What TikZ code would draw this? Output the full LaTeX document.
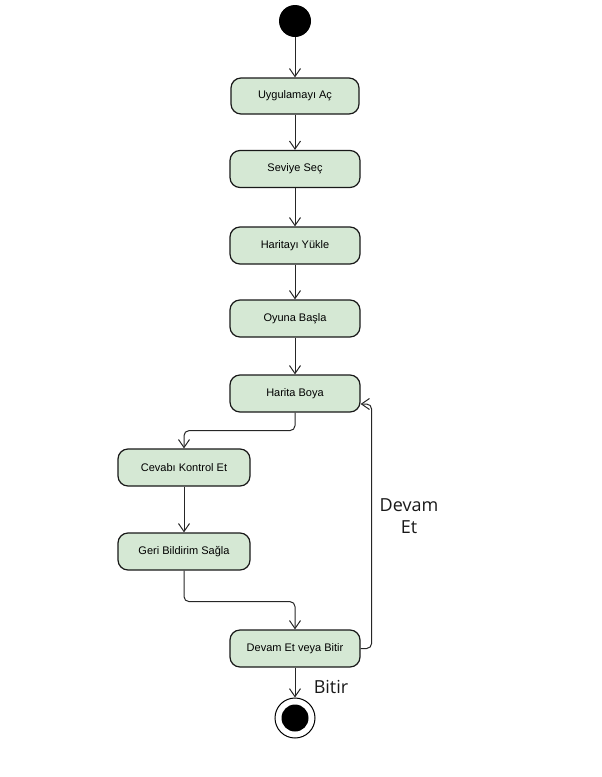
\documentclass[tikz,border=0pt]{standalone}
\usepackage{fontspec}
\setmainfont{Liberation Sans}
\newfontfamily\lblfont{Open Sans}
\usetikzlibrary{arrows.meta}
\definecolor{actfill}{HTML}{D5E8D4}
\begin{document}
\begin{tikzpicture}[x=1pt,y=-1pt,
 act/.style={draw=black!90,fill=actfill,rounded corners=10pt,line width=1.2pt,minimum width=130pt,minimum height=37pt,font=\fontsize{11}{13}\selectfont,inner sep=0pt},
 flow/.style={draw=black!85,line width=1pt,-{Straight Barb[length=8pt,width=11pt]},rounded corners=5pt},
 lbl/.style={font=\lblfont\fontsize{18}{22}\selectfont,text=black!90,align=center}]
\useasboundingbox (0,0) rectangle (602,777);
\node[circle,fill=black,minimum size=32pt,inner sep=0pt] (start) at (295,21) {};
\node[act,minimum width=128pt,minimum height=36pt] (a1) at (295,96) {Uygulamayı Aç};
\node[act] (a2) at (295,169) {Seviye Seç};
\node[act] (a3) at (295,245.5) {Haritayı Yükle};
\node[act] (a4) at (295,318.5) {Oyuna Başla};
\node[act] (a5) at (295,393.5) {Harita Boya};
\node[act,minimum width=132pt] (a6) at (184,467.5) {Cevabı Kontrol Et};
\node[act,minimum width=132pt] (a7) at (184,551.5) {Geri Bildirim Sağla};
\node[act] (a8) at (295,648.5) {Devam Et veya Bitir};
\node[circle,draw=black,line width=1pt,fill=white,minimum size=40pt,inner sep=0pt] (end) at (295,718) {};
\node[circle,fill=black,minimum size=27pt,inner sep=0pt] (endin) at (end.center) {};
\coordinate (a5in) at ([yshift=-10.5pt]a5.east);
\draw[flow] (start) -- (a1);
\draw[flow] (a1) -- (a2);
\draw[flow] (a2) -- (a3);
\draw[flow] (a3) -- (a4);
\draw[flow] (a4) -- (a5);
\draw[flow] (a5.south) -- ++(0,18) -| (a6.north);
\draw[flow] (a6) -- (a7);
\draw[flow] (a7.south) -- ++(0,31) -| (a8.north);
\draw[flow] (a8.east) -- ++(11,0) |- (a5in);
\draw[flow] (a8) -- (end);
\node[lbl] (devam) at (409,516) {Devam\\Et};
\node[lbl] (bitir) at (331,686.5) {Bitir};
\end{tikzpicture}
\end{document}
